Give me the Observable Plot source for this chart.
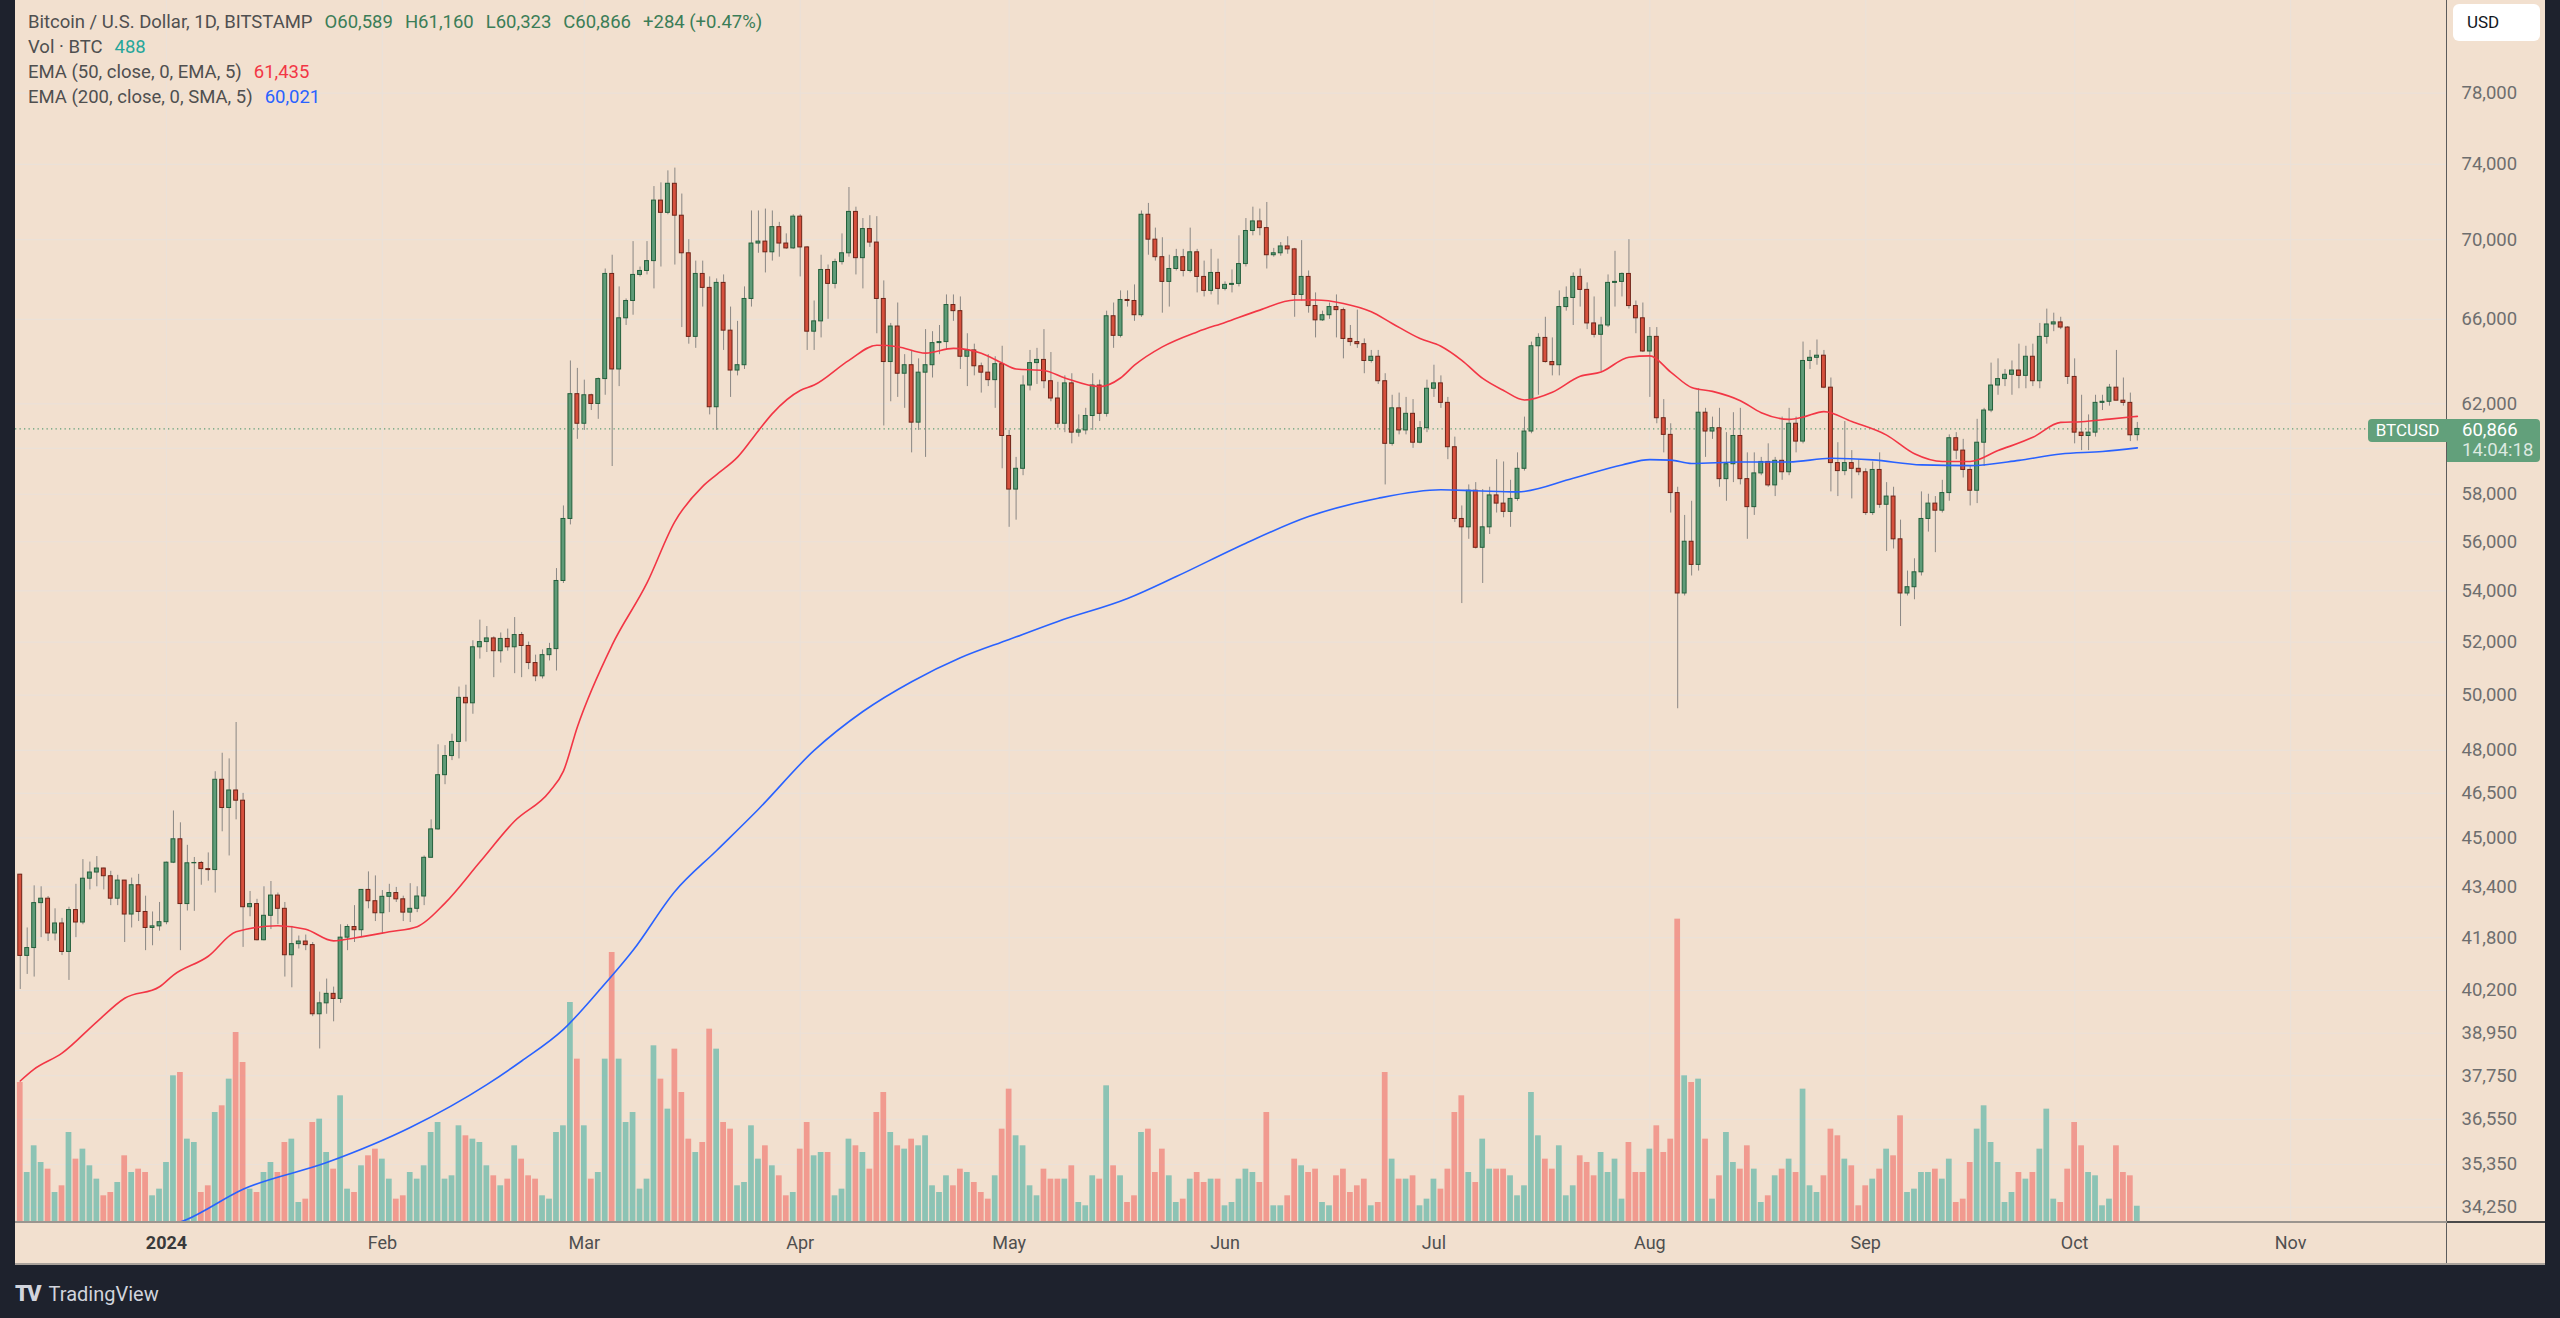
<!DOCTYPE html>
<html>
<head>
<meta charset="utf-8">
<title>BTCUSD 1D</title>
<script src="https://cdn.jsdelivr.net/npm/d3@7"></script>
<script src="https://cdn.jsdelivr.net/npm/@observablehq/plot@0.6"></script>
<style>
  html, body { margin:0; padding:0; background:#1e222d; }
  #root { position:relative; width:2560px; height:1318px; background:#1e222d; overflow:hidden;
          font-family: Roboto, "Noto Sans", "DejaVu Sans", sans-serif; }
  #pane { position:absolute; left:15px; top:0; width:2530px; height:1265px; background:#f2e0cf; }
  .layer { position:absolute; left:15px; top:0; }
  .legend { position:absolute; left:28px; top:10px; font-size:18.5px; line-height:25px; color:#4f4f4f; white-space:nowrap; }
  .legend .v { margin-left:12px; }
  .legend .ohlc { color:#3b7d57; }
  .hline { position:absolute; height:0; }
  .vline { position:absolute; width:0; }
  #usd { position:absolute; left:2453px; top:4px; width:87px; height:37px; background:#ffffff; border-radius:6px;
         font-size:17px; line-height:37px; color:#131722; box-sizing:border-box; padding-left:14px; }
  #btcusd { position:absolute; left:2368px; top:419px; width:79px; height:23px; background:#62a07b; border-radius:4px 0 0 4px;
            color:#ffffff; font-size:17px; line-height:23px; text-align:center; }
  #pricebox { position:absolute; left:2447px; top:419px; width:93px; height:43px; background:#62a07b; border-radius:0 4px 4px 0;
              color:#ffffff; font-size:18.5px; line-height:20px; box-sizing:border-box; padding:1px 0 0 15px; }
  #pricebox .cd { color:rgba(255,255,255,0.78); }
  #footer { position:absolute; left:15px; top:1280px; height:28px; color:#d1d4dc; font-size:20px; line-height:28px; white-space:nowrap; }
  #footer .logo { font-weight:900; letter-spacing:-2px; margin-right:9px; font-size:22px; }
</style>
</head>
<body>
<div id="root">
  <div id="pane"></div>
</div>
<script>
// ---------------- DATA (daily candles, BITSTAMP BTC/USD) ----------------
// rows: [open, high, low, close, volume BTC], one per day, starting 2023-12-11
const dec2023 = [
  [43790,43800,40230,41240,4200],[41240,42100,40680,41480,1500],[41480,43430,40600,42880,2300],[42880,43400,41800,43020,1800],
  [43020,43090,41680,41930,1600],[41930,42700,41700,42240,900],[42240,42400,41250,41360,1100],[41360,42750,40500,42660,2700],
  [42660,43480,41800,42270,1900],[42270,44280,42200,43660,2200],[43660,44200,43300,43860,1700],[43860,44380,43400,43990,1300],
  [43990,44000,43300,43740,800],[43740,43900,42800,43020,900],[43020,43770,42800,43600,1200],[43600,43600,41650,42520,2000],
  [42520,43680,42100,43450,1500],[43450,43800,42300,42600,1600],[42600,43100,41400,42100,1500],[42100,42600,41550,42150,800],
  [42150,42900,42000,42280,1000]
];
const jan2024 = [
  [42280,44200,42200,44180,1800],[44180,45900,44150,44950,4400],[44950,45500,41400,42850,4500],[42850,44750,42630,44160,2500],
  [44160,44350,42620,44170,2400],[44170,44220,43450,43970,900],[43970,44500,43580,43940,1100],[43940,47250,43200,46970,3300],
  [46970,47900,45200,46000,3500],[46000,47700,44400,46600,4300],[46600,49000,45600,46250,5700],[46250,46500,41500,42750,4800],
  [42750,43250,42450,42850,1000],[42850,43000,41700,41720,900],[41720,43400,41700,42480,1500],[42480,43570,42050,43120,1800],
  [43120,43200,42200,42700,1500],[42700,42900,40600,41260,2400],[41260,42150,40280,41600,2500],[41600,41850,41450,41680,600],
  [41680,41880,41400,41570,700],[41570,41650,39430,39500,3000],[39500,40150,38500,39820,3100],[39820,40540,39500,40100,2100],
  [40100,40300,39280,39950,1600],[39950,42200,39820,41800,3800],[41800,42200,41400,42130,1000],[42130,42800,41650,42030,900],
  [42030,43300,41800,43300,1700],[43300,43880,42700,42940,2000],[42940,43750,42300,42560,2200]
];
const feb2024 = [
  [42560,43280,41900,43080,1900],[43080,43480,42580,43200,1300],[43200,43380,42900,43000,700],[43000,43100,42300,42580,800],
  [42580,43500,42270,42700,1500],[42700,43400,42580,43090,1300],[43090,44400,42800,44340,1700],[44340,45600,44330,45280,2700],
  [45280,48200,45250,47130,3000],[47130,48170,46800,47800,1300],[47800,48580,47640,48300,1400],[48300,50300,47700,49900,2900],
  [49900,50370,48300,49700,2600],[49700,52050,49300,51800,2500],[51800,52850,51350,52000,2400],[52000,52600,51600,52140,1700],
  [52140,52200,50650,51650,1400],[51650,52350,51200,52120,1100],[52120,52500,51650,51800,1300],[51800,52950,50800,52270,2300],
  [52270,52370,50650,51850,1900],[51850,52000,50950,51200,1400],[51200,51500,50500,50700,1300],[50700,51700,50600,51500,800],
  [51500,51950,51280,51730,700],[51730,54900,50900,54400,2700],[54400,57500,54300,56950,2900],[56950,64000,56700,62450,6600],
  [62450,63650,60400,61100,4900]
];
const mar2024 = [
  [61100,63100,60800,62400,2900],[62400,62450,61700,62000,1300],[62000,63200,61300,63150,1500],[63150,68500,62400,68250,4900],
  [68250,69200,59200,63600,8100],[63600,67600,62800,66050,4900],[66050,67000,65700,66900,3000],[66900,69900,66200,68200,3300],
  [68200,68600,68100,68400,1000],[68400,69900,68200,68900,1300],[68900,72800,67500,72050,5300],[72050,73000,68600,71400,4300],
  [71400,73650,71300,72950,3400],[72950,73800,68700,71250,5200],[71250,72400,65600,69300,3900],[69300,70000,64800,65150,2500],
  [65150,68900,64600,68250,2100],[68250,68900,66600,67550,2400],[67550,68100,61500,61850,5800],[61850,68000,60800,67800,5200],
  [67800,68200,64500,65450,3000],[65450,66600,62300,63550,2800],[63550,65900,63300,63800,1100],[63800,67600,63600,67000,1200],
  [67000,71500,66600,69800,2900],[69800,71500,69300,69900,1900],[69900,71600,68300,69350,2300],[69350,71500,68900,70650,1700],
  [70650,70900,69100,69800,1400],[69800,70300,69500,69550,800],[69550,71300,69500,71200,900]
];
const apr2024 = [
  [71200,71300,68100,69600,2200],[69600,69650,64500,65400,3000],[65400,66900,64500,65900,2000],[65900,69200,65100,68450,2100],
  [68450,68700,66000,67750,2100],[67750,69000,67500,68850,800],[68850,70300,68700,69300,1000],[69300,72750,69100,71450,2500],
  [71450,71700,68200,69050,2300],[69050,71100,67500,70550,2100],[70550,71250,69600,69850,1600],[69850,71200,65300,67000,3300],
  [67000,67900,61000,63950,3900],[63950,65800,62100,65650,2700],[65650,66800,62300,63400,2300],[63400,64300,61800,63800,2200],
  [63800,64500,59800,61150,2500],[61150,64100,60800,63450,2300],[63450,65500,59600,63800,2600],[63800,65400,63200,64850,1100],
  [64850,65700,64300,64900,900],[64900,67200,64500,66700,1400],[66700,67200,65900,66400,1100],[66400,67100,63600,64200,1600],
  [64200,65300,62800,64500,1500],[64500,64800,63300,63750,1200],[63750,63900,62500,63450,900],[63450,64300,62800,63100,700],
  [63100,64200,61800,63850,1400],[63850,64700,59100,60550,2800]
];
const may2024 = [
  [60550,60800,56600,58200,4000],[58200,59600,56900,59100,2600],[59100,63300,58800,62850,2300],[62850,64500,62600,63900,1100],
  [63900,64600,62900,64050,800],[64050,65500,62700,63050,1600],[63050,64400,62100,62250,1300],[62250,63000,60900,61100,1300],
  [61100,63300,60700,62950,1300],[62950,63400,60200,60700,1700],[60700,61500,60500,60800,600],[60800,61800,60600,61450,500],
  [61450,63400,60800,62850,1400],[62850,63100,61200,61550,1300],[61550,66400,61400,66150,4100],[66150,66800,64600,65200,1700],
  [65200,67400,65100,66950,1400],[66950,67400,66600,66900,600],[66900,67700,65900,66200,800],[66200,71500,66100,71300,2700],
  [71300,71900,69200,70000,2800],[70000,70600,68900,69100,1500],[69100,70100,66300,67850,2200],[67850,69200,66600,68500,1400],
  [68500,69500,68400,69100,600],[69100,69500,68100,68400,700],[68400,70600,68300,69350,1300],[69350,69500,67300,68100,1500],
  [68100,68900,67100,67400,1200],[67400,69500,67200,68300,1300],[68300,69000,66700,67500,1300]
];
const jun2024 = [
  [67500,67850,67400,67700,500],[67700,68450,67300,67750,600],[67750,70200,67600,68750,1300],[68750,71100,68600,70450,1600],
  [70450,71700,70200,70950,1500],[70950,71600,70200,70600,1200],[70600,71950,68500,69200,3300],[69200,69550,69100,69300,500],
  [69300,69850,69150,69650,500],[69650,70150,69250,69500,800],[69500,69550,66100,67200,1900],[67200,69950,66900,68100,1700],
  [68100,68400,66300,66650,1500],[66650,67300,65100,65950,1600],[65950,66400,65900,66200,600],[66200,66800,66000,66600,500],
  [66600,67200,65100,66450,1400],[66450,66550,64100,65050,1600],[65050,65700,64700,64900,900],[64900,66450,64600,64800,1100],
  [64800,65050,63400,64000,1300],[64000,64500,63900,64200,500],[64200,64500,62900,63050,600],[63050,63400,58400,60200,4500],
  [60200,62400,60100,61800,1900],[61800,62500,60600,60800,1300],[60800,62300,60600,61550,1300],[61550,62200,60000,60250,1400],
  [60250,61200,60200,60900,500],[60900,63100,60700,62700,700]
];
const jul2024 = [
  [62700,63800,62300,62950,1300],[62950,63300,61800,62050,1000],[62050,62300,59500,60050,1600],[60050,60500,56800,56950,3300],
  [56950,57500,53500,56600,3800],[56600,58400,56100,58150,1500],[58150,58500,55700,55750,1200],[55750,58200,54300,56600,2500],
  [56600,58300,56300,57950,1600],[57950,59500,57200,57600,1600],[57600,59400,57000,57250,1600],[57250,58600,56600,57800,1400],
  [57800,59800,57700,59100,800],[59100,61400,59000,60750,1100],[60750,64900,60650,64700,3900],[64700,65300,62400,65100,2600],
  [65100,66100,63900,63950,1900],[63950,65100,63300,63800,1600],[63800,67400,63300,66600,2300],[66600,67600,66400,67050,800],
  [67050,68300,65700,68100,1100],[68100,68500,66600,67450,2000],[67450,67800,65500,65800,1800],[65800,67100,65100,65250,1400],
  [65250,66100,63500,65700,2100],[65700,68200,65600,67800,1500],[67800,69400,66600,67850,1900],[67850,68300,67100,68250,700],
  [68250,70000,66500,66650,2400],[66650,66900,65300,66050,1500],[66050,66800,64400,64450,1500]
];
const aug2024 = [
  [64450,65600,62300,65150,2200],[65150,65600,61100,61350,2900],[61350,62200,59800,60600,2100],[60600,61100,57200,58050,2500],
  [58050,58300,49500,53900,9100],[53900,57100,53800,56000,4400],[56000,57700,54600,55050,4200],[55050,62700,54800,61600,4300],
  [61600,61800,59600,60750,2500],[60750,61400,60400,60900,700],[60900,61800,58300,58650,1400],[58650,60700,57700,59300,2700],
  [59300,61600,58500,60550,1800],[60550,61800,58400,58650,1600],[58650,59800,56100,57450,2300],[57450,59800,57100,58900,1600],
  [58900,59600,58800,59400,600],[59400,60200,58300,58380,800],[58380,59600,57900,59450,1400],[59450,61400,58600,58950,1600],
  [58950,61800,58800,61100,1900],[61100,61400,59800,60300,1500],[60300,64900,60200,64000,4000],[64000,64500,63600,64150,1100],
  [64150,65000,63800,64250,900],[64250,64500,62700,62750,1400],[62750,63200,58100,59350,2800],[59350,60250,57900,59000,2600],
  [59000,61200,58800,59350,1900],[59350,59900,57800,59100,1700],[59100,59500,58800,58950,500]
];
const sep2024 = [
  [58950,59100,57100,57200,1100],[57200,59400,57100,59050,1300],[59050,59800,57400,57550,1600],[57550,58500,55600,57900,2200],
  [57900,58300,55700,56100,2000],[56100,56900,52600,53900,3200],[53900,54800,53800,54150,900],[54150,55300,53650,54750,1000],
  [54750,58100,54600,56950,1500],[56950,58000,56400,57600,1500],[57600,57900,55550,57300,1600],[57300,58600,57200,58050,1300],
  [58050,60600,57700,60450,1900],[60450,60700,59500,59900,600],[59900,60400,58700,59050,700],[59050,59200,57500,58150,1800],
  [58150,61300,57600,60250,2800],[60250,61800,59200,61700,3500],[61700,63900,61600,62850,2400],[62850,64100,62400,63150,1800],
  [63150,63600,62800,63350,600],[63350,64000,62400,63550,900],[63550,64800,62700,63300,1500],[63300,64700,62700,64200,1300],
  [64200,64800,62800,63050,1500],[63050,65800,62700,65150,2200],[65150,66500,64800,65750,3400],[65750,66300,65400,65850,700],
  [65850,66100,65500,65600,600],[65600,65650,62900,63250,1600]
];
const oct2024 = [
  [63250,64100,60200,60700,3000],[60700,62400,59900,60550,2300],[60550,61500,59900,60700,1500],[60700,62400,60500,62050,1400],
  [62050,62400,61700,62100,500],[62100,62900,61900,62750,700],[62750,64500,62300,62150,2300],[62150,63200,61900,62050,1500],
  [62050,62500,60300,60582,1400],[60589,61160,60323,60866,488]
];

// EMA 50 (red): [date, value]
const ema50 = [
  ["2023-12-11",37600],["2023-12-13",37930],["2023-12-17",38380],["2023-12-22",39280],["2023-12-26",39970],["2023-12-31",40310],
  ["2024-01-02",40660],["2024-01-07",41230],["2024-01-11",41980],["2024-01-17",42170],["2024-01-21",42060],["2024-01-25",41700],
  ["2024-01-28",41790],["2024-02-02",41980],["2024-02-06",42140],["2024-02-10",42880],["2024-02-15",44200],["2024-02-20",45560],
  ["2024-02-25",46560],["2024-02-27",47270],["2024-02-29",48840],["2024-03-05",51890],["2024-03-10",54320],["2024-03-14",56840],
  ["2024-03-18",58340],["2024-03-20",58850],["2024-03-23",59610],["2024-03-26",60790],["2024-03-28",61560],["2024-04-01",62620],
  ["2024-04-03",62870],["2024-04-08",64030],["2024-04-12",64750],["2024-04-15",64680],["2024-04-19",64370],["2024-04-23",64600],
  ["2024-04-27",64370],["2024-04-30",63900],["2024-05-02",63620],["2024-05-06",63550],["2024-05-09",63200],["2024-05-14",62800],
  ["2024-05-17",63200],["2024-05-19",63800],["2024-05-23",64670],["2024-05-28",65390],["2024-06-01",65850],["2024-06-06",66450],
  ["2024-06-11",66950],["2024-06-14",66950],["2024-06-18",66780],["2024-06-22",66370],["2024-06-25",65800],["2024-06-29",65070],
  ["2024-07-02",64700],["2024-07-05",64030],["2024-07-08",63180],["2024-07-11",62620],["2024-07-14",62180],["2024-07-18",62540],
  ["2024-07-22",63280],["2024-07-25",63480],["2024-07-29",64180],["2024-08-01",64240],["2024-08-04",63480],["2024-08-07",62760],
  ["2024-08-10",62580],["2024-08-14",62150],["2024-08-17",61600],["2024-08-21",61300],["2024-08-23",61400],["2024-08-26",61650],
  ["2024-08-30",61200],["2024-09-04",60590],["2024-09-08",59760],["2024-09-12",59420],["2024-09-16",59420],["2024-09-20",59900],
  ["2024-09-25",60490],["2024-09-29",61160],["2024-10-02",61190],["2024-10-06",61310],["2024-10-10",61435]
];
// EMA 200 (blue): [date, value]
const ema200 = [
  ["2023-12-11",31900],["2023-12-22",32900],["2024-01-01",33750],["2024-01-04",33950],["2024-01-12",34710],["2024-01-24",35400],
  ["2024-02-05",36330],["2024-02-16",37500],["2024-02-21",38160],["2024-02-27",39060],["2024-03-03",40170],["2024-03-08",41410],
  ["2024-03-14",43250],["2024-03-20",44580],["2024-03-26",45960],["2024-04-03",48000],["2024-04-10",49400],["2024-04-17",50500],
  ["2024-04-24",51400],["2024-05-01",52100],["2024-05-08",52800],["2024-05-18",53700],["2024-05-25",54580],["2024-06-04",55940],
  ["2024-06-13",57050],["2024-06-23",57830],["2024-07-02",58190],["2024-07-07",58150],["2024-07-13",58100],["2024-07-21",58690],
  ["2024-07-28",59270],["2024-08-01",59500],["2024-08-04",59480],["2024-08-07",59330],["2024-08-14",59400],["2024-08-21",59400],
  ["2024-08-27",59560],["2024-09-02",59490],["2024-09-09",59270],["2024-09-16",59240],["2024-09-23",59470],["2024-09-29",59750],
  ["2024-10-05",59860],["2024-10-10",60021]
];

const priceTicks = [34250,35350,36550,37750,38950,40200,41800,43400,45000,46500,48000,50000,52000,54000,56000,58000,62000,66000,70000,74000,78000];
const gridPrices = [...priceTicks, 60000];
const monthStarts = ["2024-01-01","2024-02-01","2024-03-01","2024-04-01","2024-05-01","2024-06-01","2024-07-01","2024-08-01","2024-09-01","2024-10-01","2024-11-01"];
const monthLabels = ["2024","Feb","Mar","Apr","May","Jun","Jul","Aug","Sep","Oct","Nov"];

// ---------------- BUILD ----------------
const DAY = 864e5;
const firstDay = Date.UTC(2023, 11, 11);
const rows = [dec2023, jan2024, feb2024, mar2024, apr2024, may2024, jun2024, jul2024, aug2024, sep2024, oct2024].flat();
const candles = rows.map((r, i) => ({date: new Date(firstDay + i * DAY), open: r[0], high: r[1], low: r[2], close: r[3], volume: r[4]}));
const toDate = s => new Date(s + "T00:00:00Z");
const ema50Data = ema50.map(([d, v]) => ({date: toDate(d), value: v}));
const ema200Data = ema200.map(([d, v]) => ({date: toDate(d), value: v}));
const monthTicks = monthStarts.map(toDate);

const jan1 = Date.UTC(2024, 0, 1);
const xDomain = [new Date(jan1 - 21.68 * DAY), new Date(jan1 + 327.54 * DAY)];
const yDomain = [33868, 83527];
const W = 2530, H = 1265;
const FONT = "Roboto, 'Noto Sans', 'DejaVu Sans', sans-serif";
const common = {width: W, height: H, marginLeft: 0, marginRight: 98, marginTop: 0, marginBottom: 43,
  style: {background: "transparent", fontFamily: FONT, overflow: "visible"}};
const gridColor = "#ebe1d8";
const isUp = d => d.close >= d.open;

const gridPlot = Plot.plot({
  ...common,
  x: {type: "utc", domain: xDomain},
  y: {type: "log", domain: yDomain},
  marks: [
    Plot.ruleY(gridPrices, {stroke: gridColor, strokeWidth: 1.2}),
    Plot.ruleX(monthTicks, {stroke: gridColor, strokeWidth: 1.2}),
    Plot.axisY(priceTicks, {anchor: "right", tickSize: 0, tickPadding: 14, tickFormat: d3.format(","), fontSize: 18.5, color: "#6e6e6e", label: null}),
    Plot.axisX(monthTicks.slice(1), {anchor: "bottom", tickSize: 0, tickPadding: 14, fontSize: 18, color: "#4f4f4f", label: null,
      tickFormat: d => monthLabels[monthTicks.findIndex(m => +m === +d)]}),
    Plot.axisX(monthTicks.slice(0, 1), {anchor: "bottom", tickSize: 0, tickPadding: 14, fontSize: 18, fontWeight: "bold", color: "#3a3a3a", label: null,
      tickFormat: () => monthLabels[0]})
  ]
});

const volPlot = Plot.plot({
  ...common,
  x: {type: "utc", domain: xDomain, axis: null},
  y: {domain: [0, 30 * 1222], axis: null},
  color: {type: "identity"},
  marks: [
    Plot.rect(candles, {
      x1: d => new Date(+d.date - 0.41 * DAY), x2: d => new Date(+d.date + 0.41 * DAY),
      y1: () => 0, y2: "volume",
      fill: d => isUp(d) ? "rgba(38,166,154,0.5)" : "rgba(239,83,80,0.5)"
    })
  ]
});

const last = candles[candles.length - 1];
const pricePlot = Plot.plot({
  ...common,
  x: {type: "utc", domain: xDomain, axis: null},
  y: {type: "log", domain: yDomain, axis: null},
  color: {type: "identity"},
  marks: [
    Plot.ruleY([last.close], {stroke: "#5f9e78", strokeWidth: 1.3, strokeDasharray: "1.3,3.2"}),
    Plot.ruleX(candles, {x: "date", y1: "low", y2: "high", stroke: "#8a8784", strokeWidth: 1}),
    Plot.rect(candles, {
      x1: d => new Date(+d.date - 0.28 * DAY), x2: d => new Date(+d.date + 0.28 * DAY),
      y1: "open", y2: "close",
      fill: d => isUp(d) ? "#5f9b78" : "#d6503d",
      stroke: d => isUp(d) ? "#24603c" : "#6e2418",
      strokeWidth: 1
    }),
    Plot.line(ema200Data, {x: "date", y: "value", stroke: "#2962ff", strokeWidth: 1.6, curve: "monotone-x", clip: true}),
    Plot.line(ema50Data, {x: "date", y: "value", stroke: "#f23645", strokeWidth: 1.6, curve: "monotone-x", clip: true})
  ]
});

const root = document.getElementById("root");
for (const p of [gridPlot, volPlot, pricePlot]) {
  p.classList.add("layer");
  root.appendChild(p);
}

// ---------------- OVERLAYS (frame lines, legend, labels, footer) ----------------
function el(tag, cls, styleText, html) {
  const e = document.createElement(tag);
  if (cls) e.className = cls;
  if (styleText) e.style.cssText = styleText;
  if (html != null) e.innerHTML = html;
  root.appendChild(e);
  return e;
}
el("div", "vline", "left:2446px;top:0;height:1265px;border-left:1px solid #5c5c5c;");
el("div", "hline", "left:15px;top:1221px;width:2432px;border-top:2px solid #9b958f;");
el("div", "hline", "left:2447px;top:1221px;width:98px;border-top:2px solid #4a4a4a;");
el("div", "hline", "left:15px;top:1263px;width:2530px;border-top:2px solid #aaa39c;");

const fmt = d3.format(",");
const prev = candles[candles.length - 2];
const chg = last.close - prev.close;
const pct = chg / prev.close * 100;
const lastE50 = ema50[ema50.length - 1][1];
const lastE200 = ema200[ema200.length - 1][1];
el("div", "legend", "",
  `<div>Bitcoin / U.S. Dollar, 1D, BITSTAMP<span class="v ohlc">O${fmt(last.open)}</span><span class="v ohlc">H${fmt(last.high)}</span><span class="v ohlc">L${fmt(last.low)}</span><span class="v ohlc">C${fmt(last.close)}</span><span class="v ohlc">${chg >= 0 ? "+" : ""}${fmt(chg)} (${chg >= 0 ? "+" : ""}${pct.toFixed(2)}%)</span></div>` +
  `<div>Vol · BTC<span class="v" style="color:#26a69a">${fmt(last.volume)}</span></div>` +
  `<div>EMA (50, close, 0, EMA, 5)<span class="v" style="color:#f23645">${fmt(lastE50)}</span></div>` +
  `<div>EMA (200, close, 0, SMA, 5)<span class="v" style="color:#2962ff">${fmt(lastE200)}</span></div>`);

el("div", null, "", "USD").id = "usd";
el("div", null, "", "BTCUSD").id = "btcusd";
el("div", null, "", `<div>${fmt(last.close)}</div><div class="cd">14:04:18</div>`).id = "pricebox";
el("div", null, "", `<span class="logo">TV</span>TradingView`).id = "footer";
</script>
</body>
</html>
